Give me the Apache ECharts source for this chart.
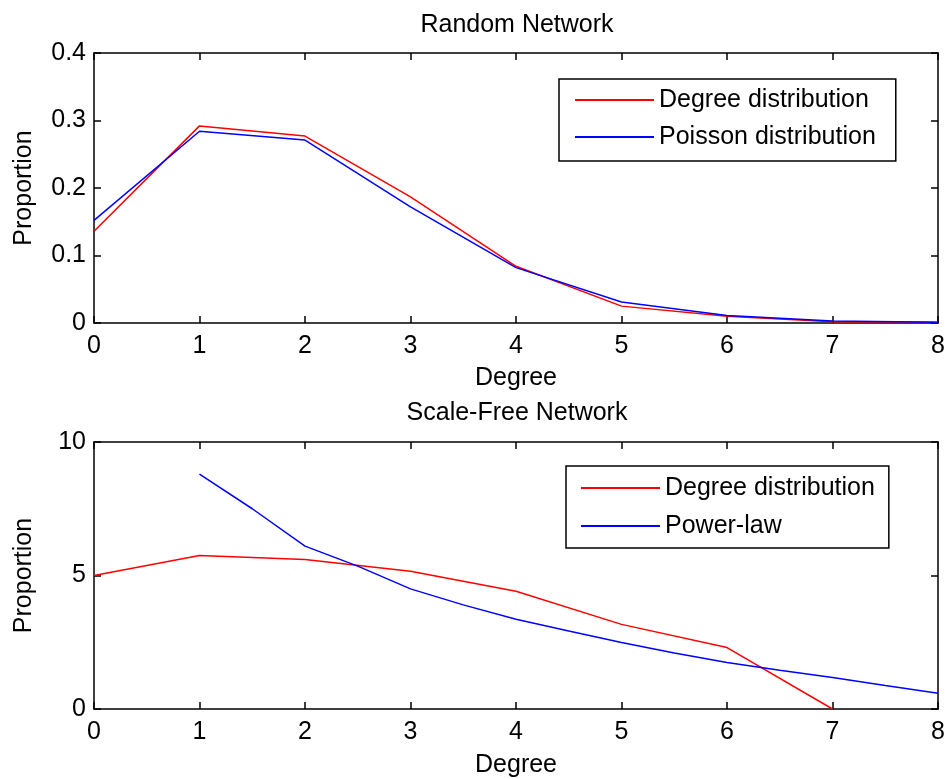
<!DOCTYPE html>
<html>
<head>
<meta charset="utf-8">
<script src="https://cdn.jsdelivr.net/npm/echarts@6/dist/echarts.min.js"></script>
<style>
  html, body { margin: 0; padding: 0; background: #fff; }
  #chart { width: 948px; height: 779px; }
</style>
</head>
<body>
<div id="chart"></div>
<script>
// Degree values shared by both panels
const degrees = [0, 1, 2, 3, 4, 5, 6, 7, 8];

// Random network: observed degree distribution vs. Poisson fit
const randomDegreeDist = [0.136, 0.292, 0.277, 0.187, 0.084, 0.025, 0.010, 0.002, 0.001];
const poissonDist      = [0.152, 0.284, 0.271, 0.172, 0.082, 0.031, 0.011, 0.003, 0.001];

// Scale-free network: observed degree distribution (degrees 0..7) vs. power-law fit
const sfDegrees        = [0, 1, 2, 3, 4, 5, 6, 7];
const sfDegreeDist     = [5.0, 5.75, 5.6, 5.16, 4.41, 3.17, 2.30, 0];
const powerLawDegrees  = [1, 1.5, 2, 2.5, 3, 3.5, 4, 4.5, 5, 5.5, 6, 6.5, 7, 7.5, 8];
const powerLawValues   = [8.8, 7.5, 6.1, 5.35, 4.5, 3.9, 3.36, 2.92, 2.49, 2.1, 1.74, 1.45, 1.18, 0.88, 0.59];

// Axis tick ranges: min, max, interval
const xTicks = [0, 8, 1];
const yTicksTop = [0, 0.4, 0.1];
const yTicksBottom = [0, 10, 5];

const FONT = 'Liberation Sans, Arial, sans-serif';
const FS = 25;
const BLACK = '#000';

const pairs = (xs, ys) => xs.map((x, i) => [x, ys[i]]);

// Box-style axes: labelled axis plus a mirrored, unlabelled one on the opposite side
function xAxes(gridIndex, nameGap) {
  const base = {
    type: 'value', gridIndex,
    min: xTicks[0], max: xTicks[1], interval: xTicks[2],
    axisLine: { show: true, onZero: false, lineStyle: { color: BLACK, width: 1.5 } },
    axisTick: { show: true, inside: true, length: 7, lineStyle: { color: BLACK, width: 1.5 } },
    splitLine: { show: false }
  };
  return [
    Object.assign({}, base, {
      position: 'bottom',
      axisLabel: { color: BLACK, fontFamily: FONT, fontSize: FS, margin: 11 },
      name: 'Degree', nameLocation: 'middle', nameGap,
      nameTextStyle: { color: BLACK, fontFamily: FONT, fontSize: FS, lineHeight: 25 }
    }),
    Object.assign({}, base, { position: 'top', axisLabel: { show: false } })
  ];
}

function yAxes(gridIndex, ticks) {
  const base = {
    type: 'value', gridIndex,
    min: ticks[0], max: ticks[1], interval: ticks[2],
    axisLine: { show: true, onZero: false, lineStyle: { color: BLACK, width: 1.5 } },
    axisTick: { show: true, inside: true, length: 7, lineStyle: { color: BLACK, width: 1.5 } },
    splitLine: { show: false }
  };
  return [
    Object.assign({}, base, {
      position: 'left',
      axisLabel: { color: BLACK, fontFamily: FONT, fontSize: FS, margin: 8 },
      name: 'Proportion', nameLocation: 'middle', nameGap: 57, nameRotate: 90,
      nameTextStyle: { color: BLACK, fontFamily: FONT, fontSize: FS, lineHeight: 25 }
    }),
    Object.assign({}, base, { position: 'right', axisLabel: { show: false } })
  ];
}

function legendBox(names, left, top, padding, gap) {
  return {
    orient: 'vertical', left, top, padding, itemGap: gap,
    data: names,
    icon: 'rect', itemWidth: 79, itemHeight: 2,
    borderColor: BLACK, borderWidth: 1.5, backgroundColor: '#fff',
    selectedMode: false,
    textStyle: { color: BLACK, fontFamily: FONT, fontSize: FS, lineHeight: 25 }
  };
}

const lineStyle = (c) => ({ color: c, width: 1.5 });

const option = {
  backgroundColor: '#fff',
  animation: false,
  title: [
    { text: 'Random Network', left: 517, top: 13, textAlign: 'center', padding: 0,
      textStyle: { color: BLACK, fontFamily: FONT, fontSize: FS, fontWeight: 'normal', lineHeight: 25 } },
    { text: 'Scale-Free Network', left: 517, top: 401, textAlign: 'center', padding: 0,
      textStyle: { color: BLACK, fontFamily: FONT, fontSize: FS, fontWeight: 'normal', lineHeight: 25 } }
  ],
  grid: [
    { left: 94, top: 53, width: 847, height: 270 },
    { left: 94, top: 442, width: 847, height: 268 }
  ],
  xAxis: [...xAxes(0, 43), ...xAxes(1, 44)],
  yAxis: [...yAxes(0, yTicksTop), ...yAxes(1, yTicksBottom)],
  legend: [
    legendBox(['Degree distribution', 'Poisson distribution'], 559, 79, [8.5, 20, 11.5, 16], 12),
    legendBox(['Degree distribution', 'Power-law'], 566, 466, [9.5, 14, 9.5, 15], 13)
  ],
  series: [
    { name: 'Degree distribution', type: 'line', xAxisIndex: 0, yAxisIndex: 0,
      data: pairs(degrees, randomDegreeDist), showSymbol: false, symbol: 'none',
      color: '#ff0000', lineStyle: lineStyle('#ff0000') },
    { name: 'Poisson distribution', type: 'line', xAxisIndex: 0, yAxisIndex: 0,
      data: pairs(degrees, poissonDist), showSymbol: false, symbol: 'none',
      color: '#0000ff', lineStyle: lineStyle('#0000ff') },
    { name: 'Degree distribution', type: 'line', xAxisIndex: 2, yAxisIndex: 2,
      data: pairs(sfDegrees, sfDegreeDist), showSymbol: false, symbol: 'none',
      color: '#ff0000', lineStyle: lineStyle('#ff0000') },
    { name: 'Power-law', type: 'line', xAxisIndex: 2, yAxisIndex: 2,
      data: pairs(powerLawDegrees, powerLawValues), showSymbol: false, symbol: 'none',
      color: '#0000ff', lineStyle: lineStyle('#0000ff') }
  ]
};

const chart = echarts.init(document.getElementById('chart'), null, { renderer: 'canvas' });
chart.setOption(option);
</script>
</body>
</html>
